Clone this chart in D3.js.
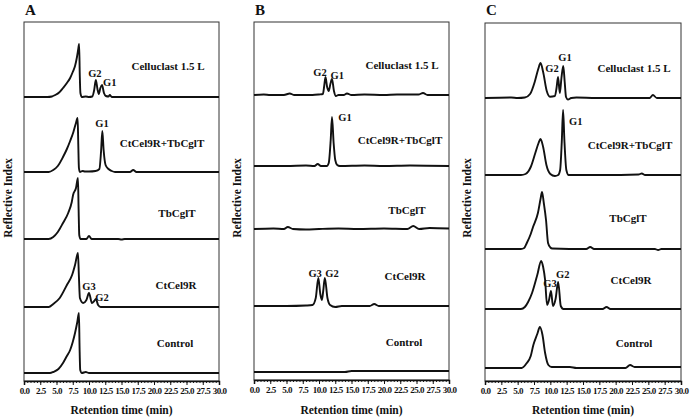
<!DOCTYPE html>
<html>
<head>
<meta charset="utf-8">
<script src="https://cdn.jsdelivr.net/npm/d3@7"></script>
<style>
  body { margin: 0; background: #fff; }
  svg text { font-family: "Liberation Serif", "Times New Roman", serif; font-weight: bold; fill: #111; }
</style>
</head>
<body>
<div id="chart"></div>
<script>
// sample rows, top to bottom
const sampleNames = ["Celluclast 1.5 L", "CtCel9R+TbCglT", "TbCglT", "CtCel9R", "Control"];
const panelIds = ["A", "B", "C"];
const tickLabels = ["0.0", "2.5", "5.0", "7.5", "10.0", "12.5", "15.0", "17.5", "20.0", "22.5", "25.0", "27.5", "30.0"];

// chromatograms: [retention time (min), signal]
const tracesA = [
  [[0,0],[3.6,0],[4.3,0.5],[4.8,2],[5.4,4.5],[6.0,9],[6.6,14],[7.1,19],[7.5,25],[7.85,31],[8.15,40],[8.35,48],[8.48,53],[8.58,22],[8.68,4],[8.9,0],[9.5,0.5],[10.0,0],[10.5,0.5],[10.8,7],[11.05,17],[11.3,8],[11.5,3],[11.75,9],[12.0,12],[12.3,4],[12.6,1],[13.0,0.5],[13.2,2],[13.5,0],[30,0]],
  [[0,0],[3.8,0],[4.5,2],[5.2,6],[6.0,15],[6.6,23],[7.1,31],[7.6,40],[7.95,48],[8.25,54],[8.35,28],[8.45,4],[8.6,0],[9.0,1],[9.4,0.5],[10.0,0.5],[11.0,1],[11.6,3],[11.85,20],[12.05,41],[12.25,22],[12.55,7],[13.0,3],[13.5,1],[14.0,0],[16.3,0],[16.8,2],[17.3,0],[30,0]],
  [[0,0],[3.8,0],[4.5,2],[5.2,7],[6.0,16],[6.8,26],[7.35,37],[7.55,44],[8.0,51],[8.3,61],[8.4,30],[8.5,4],[8.7,0],[9.6,0],[10.0,3],[10.4,0],[14.5,0],[15.0,-0.5],[15.5,0],[30,0]],
  [[0,0],[3.8,0],[4.5,3],[5.5,9],[6.6,22],[7.4,32],[7.85,42],[8.3,54],[8.45,30],[8.6,9],[9.1,4],[9.6,7],[10.0,14],[10.45,4],[10.8,6],[11.05,8],[11.4,2],[11.8,0],[30,0]],
  [[0,0],[4.0,0],[4.5,1],[5.3,4],[6.0,10],[6.6,17],[7.1,23],[7.5,31],[7.85,40],[8.2,51],[8.45,60],[8.55,25],[8.65,3],[8.9,0],[9.5,1],[10.0,0],[30,0]]
];
const tracesB = [
  [[0,0],[1.5,0.5],[2.5,0],[4.6,0],[5.5,1.5],[6.2,0],[9.0,0],[10.0,0.5],[10.6,1],[10.8,9],[11.0,18],[11.25,8],[11.5,4],[11.75,11],[12.0,16],[12.3,4],[12.6,-1],[13.0,0],[13.8,0],[14.3,1.5],[15.0,0],[17.0,0.5],[20.0,0],[22.0,0.5],[25.3,0.5],[26.0,2],[26.7,0],[30,0]],
  [[0,0],[5.0,0],[8.0,0.5],[9.3,0],[9.8,2],[10.3,0],[11.2,0],[11.5,3],[11.8,26],[12.0,49],[12.25,23],[12.5,6],[12.8,1],[13.2,0],[17.0,0.5],[20.0,0],[24.0,0.5],[30,0]],
  [[0,0],[3.0,0.5],[4.6,0],[5.2,2],[6.0,0],[8.0,-0.5],[10.0,0],[13.0,0.5],[16.0,0],[20.0,0.5],[23.6,0],[24.5,3],[25.4,0],[27.0,1],[30,0.5]],
  [[0,0],[5.0,0],[8.0,0.5],[9.0,1],[9.5,8],[9.9,28],[10.2,12],[10.45,6],[10.65,15],[10.9,28],[11.3,8],[11.7,1],[12.5,-1],[13.5,0],[17.8,0],[18.5,2],[19.2,0],[30,0]],
  [[0,0],[14.0,0],[15.0,1],[30,1]]
];
const tracesC = [
  [[0,0],[4.0,0.5],[5.0,0],[6.1,0.5],[6.9,4],[7.65,17],[8.15,29],[8.5,35],[8.9,26],[9.45,7],[9.95,1.3],[10.7,2],[10.95,10],[11.18,21],[11.45,5],[11.7,20],[11.98,32],[12.2,16],[12.4,1],[12.7,-1.5],[13.2,0],[14.0,0.5],[17.0,0],[25.2,0],[25.7,3],[26.3,0],[30,0]],
  [[0,0],[5.5,0],[6.2,1],[7.0,8],[7.7,22],[8.2,32],[8.5,36],[8.9,28],[9.4,10],[10.0,1],[10.7,-1],[11.2,0],[11.5,5],[11.75,33],[11.95,65],[12.15,35],[12.45,5],[12.8,0],[18.0,0],[23.5,0.5],[24.0,1.5],[24.5,0],[30,0]],
  [[0,0],[5.5,0],[6.0,1],[6.4,6],[7.0,15],[7.35,22],[8.1,36],[8.5,50],[8.73,57],[9.0,46],[9.34,29],[9.65,6],[10.0,1.5],[10.3,0.5],[15.5,0],[16.1,2],[16.7,0],[26.0,0],[26.5,-1],[27.0,0],[30,0]],
  [[0,0],[5.5,0],[6.1,2],[6.6,7],[7.2,16],[8.0,34],[8.6,48],[8.9,42],[9.2,29],[9.5,4],[9.8,9],[10.1,18],[10.4,3],[10.8,10],[11.2,27],[11.6,3],[12.0,0],[18.0,0],[18.6,2],[19.2,0],[30,0]],
  [[0,0],[5.6,0],[6.4,5],[7.0,12],[7.4,23],[8.0,34],[8.4,41],[8.8,33],[9.2,15],[9.7,3],[10.2,1],[13.0,1],[14.0,0],[21.5,0],[22.2,3],[22.9,1],[30,1]]
];
const tracesByPanel = [tracesA, tracesB, tracesC];

// peak annotations: [row, time, signal level, text]
const peaksA = [[0, 10.9, 24, "G2"], [0, 13.2, 15, "G1"], [1, 12.0, 49, "G1"], [3, 10.0, 21, "G3"], [3, 12.0, 10, "G2"]];
const peaksB = [[0, 10.15, 23, "G2"], [0, 12.8, 20, "G1"], [1, 14.0, 49, "G1"], [3, 9.4, 33, "G3"], [3, 12.0, 33, "G2"]];
const peaksC = [[0, 12.25, 41, "G1"], [0, 10.26, 30, "G2"], [1, 13.9, 54, "G1"], [3, 11.9, 35, "G2"], [3, 9.95, 26, "G3"]];
const peaksByPanel = [peaksA, peaksB, peaksC];

const layout = [
  { left: 24, right: 219, top: 22, bottom: 381, base: [97, 172, 239, 307, 373], nameX: [168, 162, 177, 176, 175], nameY: [66, 143, 213, 285, 343], yLabelX: 8 },
  { left: 254, right: 449, top: 22, bottom: 380, base: [95, 166, 229, 306, 372], nameX: [402, 400, 407, 405, 404], nameY: [65, 140, 210, 276, 342], yLabelX: 237 },
  { left: 485, right: 681, top: 23, bottom: 381, base: [98, 175, 249, 309, 368], nameX: [634, 630, 628, 631, 634], nameY: [68, 145, 218, 280, 343], yLabelX: 467 }
];

const svg = d3.select("#chart").append("svg")
  .attr("width", 696)
  .attr("height", 417);

panelIds.forEach((id, i) => {
  const L = layout[i];
  const x = d3.scaleLinear().domain([0, 30]).range([L.left, L.right]);
  const h = d3.scaleLinear().domain([0, 60]).range([0, 60]);
  const g = svg.append("g");

  // frame
  g.append("rect")
    .attr("x", L.left).attr("y", L.top)
    .attr("width", L.right - L.left).attr("height", L.bottom - L.top)
    .attr("fill", "none").attr("stroke", "#333").attr("stroke-width", 1);

  // traces
  tracesByPanel[i].forEach((tr, r) => {
    const line = d3.line()
      .x(d => x(d[0]))
      .y(d => L.base[r] - h(d[1]))
      .curve(d3.curveMonotoneX);
    g.append("path")
      .attr("d", line(tr))
      .attr("fill", "none")
      .attr("stroke", "#111")
      .attr("stroke-width", 1.9)
      .attr("stroke-linejoin", "round");
  });

  // sample names
  sampleNames.forEach((name, r) => {
    g.append("text")
      .attr("x", L.nameX[r]).attr("y", L.nameY[r])
      .attr("dy", "0.35em")
      .attr("text-anchor", "middle")
      .style("font-size", "11px")
      .text(name);
  });

  // peak labels
  peaksByPanel[i].forEach(p => {
    g.append("text")
      .attr("x", x(p[1])).attr("y", L.base[p[0]] - h(p[2]))
      .attr("dy", "0.35em")
      .attr("text-anchor", "middle")
      .style("font-size", "10.5px")
      .text(p[3]);
  });

  // minor ticks
  g.append("g")
    .attr("transform", `translate(0,${L.bottom})`)
    .call(d3.axisBottom(x).tickValues(d3.range(0, 30.01, 0.5)).tickSize(2).tickFormat(""))
    .call(a => a.select(".domain").remove())
    .selectAll("line").attr("stroke", "#222");

  // major axis
  const ax = g.append("g")
    .attr("transform", `translate(0,${L.bottom})`)
    .call(d3.axisBottom(x)
      .tickValues(tickLabels.map(Number))
      .tickFormat((d, k) => tickLabels[k])
      .tickSize(4).tickPadding(3));
  ax.select(".domain").attr("stroke", "#111").attr("stroke-width", 1.5);
  ax.selectAll("line").attr("stroke", "#111");
  ax.selectAll("text")
    .style("font-family", "'Liberation Serif', serif")
    .style("font-weight", "bold")
    .style("font-size", "9px")
    .style("letter-spacing", "-0.5px")
    .attr("fill", "#111");

  // axis titles
  g.append("text")
    .attr("x", (L.left + L.right) / 2).attr("y", 414)
    .attr("text-anchor", "middle")
    .style("font-size", "11.5px")
    .text("Retention time (min)");

  g.append("text")
    .attr("transform", `translate(${L.yLabelX},198) rotate(-90)`)
    .attr("dy", "0.35em")
    .attr("text-anchor", "middle")
    .style("font-size", "11.5px")
    .text("Reflective Index");

  // panel letter
  g.append("text")
    .attr("x", L.left + 1).attr("y", 15)
    .style("font-size", "15px")
    .text(id);
});
</script>
</body>
</html>
